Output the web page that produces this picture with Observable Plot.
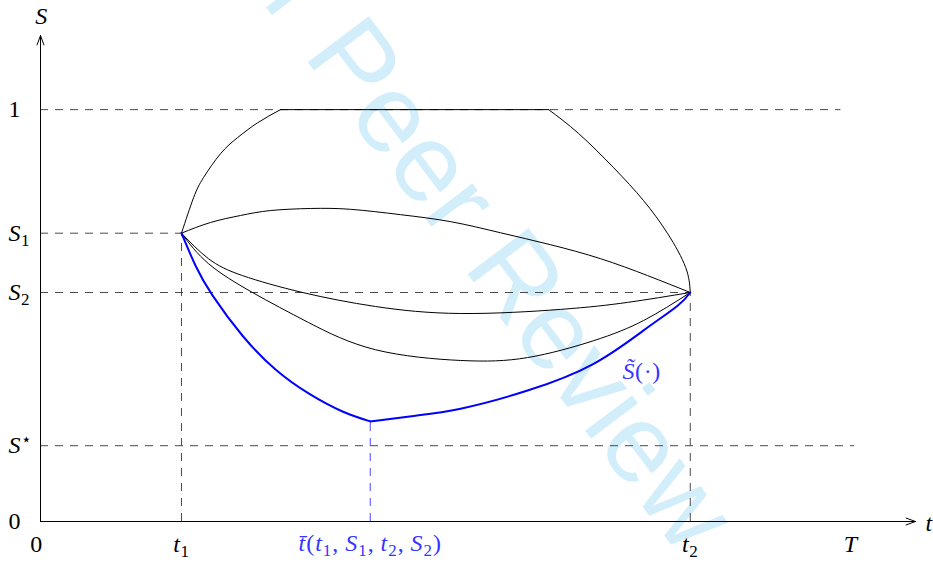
<!DOCTYPE html>
<html><head><meta charset="utf-8">
<script src="https://cdn.jsdelivr.net/npm/d3@7"></script>
<script src="https://cdn.jsdelivr.net/npm/@observablehq/plot@0.6"></script>
<style>
body{margin:0;background:#fff}
#chart svg text{font-family:"Liberation Serif","DejaVu Serif","Times New Roman",serif;}
#chart svg text.wm{font-family:"Liberation Sans","Arial","Helvetica",sans-serif;}
</style>
</head><body><div id="chart"></div>
<script>
// Key abscissae / ordinates
const t1 = 1.74, tBar = 4.07, t2 = 8.02, tEnd = 10;
const S1 = 0.70, S2 = 0.556, SStar = 0.184, SOne = 1, SBarMin = 0.243;
const tMax = 10.8, SMax = 1.18;
const oneLineEnd = 9.88, starLineEnd = 10.05;

// Tick labels
const yTickValues = [SOne, S1, S2, SStar, 0];
const yTickLabels = ["1", "S_1", "S_2", "S^⋆", "0"];
const xTickValues = [t1, t2, tEnd];
const xTickLabels = ["t_1", "t_2", "T"];
const originLabel = "0";
const tBarLabel = "t\u0304(t_1,\u2009S_1,\u2009t_2,\u2009S_2)";
const curveLabel = "S\u0303(·)";
const curveLabelPos = [7.42, 0.364];

// Dashed guide lines
const hLineS = [SOne, S1, S2, SStar];
const hLineEnd = [oneLineEnd, t1, t2, starLineEnd];
const vLineT = [t1, t2];
const vLineTop = [S1, S2];

// Curves [t, S]
const upperRise = [[1.74,0.70],[1.889,0.786],[2.012,0.835],[2.222,0.893],[2.432,0.932],[2.679,0.968],[2.963,1.0]];
const upperFlat = [[2.963,1.0],[6.272,1.0]];
const upperFall = [[6.272,1.0],[6.642,0.942],[7.074,0.859],[7.444,0.779],[7.741,0.699],[7.963,0.617],[8.02,0.556]];
const archCurve = [[1.74,0.70],[2.099,0.726],[2.469,0.743],[2.84,0.755],[3.333,0.760],[3.827,0.758],[4.444,0.745],[5.062,0.728],[5.679,0.701],[6.296,0.672],[6.914,0.638],[7.494,0.597],[8.02,0.556]];
const middleCurve = [[1.74,0.70],[2.074,0.638],[2.494,0.597],[3.235,0.556],[4.136,0.522],[5.185,0.505],[6.42,0.515],[7.247,0.532],[8.02,0.556]];
const lowerCurve = [[1.74,0.70],[2.074,0.626],[2.617,0.556],[3.309,0.483],[4.136,0.417],[5.185,0.391],[6.012,0.398],[6.827,0.439],[7.444,0.488],[8.02,0.556]];
const blueLeft = [[1.74,0.70],[1.914,0.621],[2.123,0.549],[2.494,0.451],[2.901,0.369],[3.309,0.311],[3.728,0.267],[4.07,0.243]];
const blueRight = [[4.07,0.243],[4.63,0.257],[5.185,0.274],[6.012,0.318],[6.827,0.383],[7.444,0.464],[7.864,0.524],[8.02,0.556]];

const watermark = ["For Peer Review"];

const BLUE = "#0000ff", LBLUE = "#3535ff", DASH = "#4a4a4a";
const fs = 24, fsSmall = 17;
const line = (data, o) => Plot.line(data, {x: d => d[0], y: d => d[1], curve: "natural", ...o});

const chart = Plot.plot({
  width: 933, height: 562,
  marginLeft: 40, marginRight: 18, marginTop: 35, marginBottom: 41,
  x: {domain: [0, tMax], axis: null},
  y: {domain: [0, SMax], axis: null},
  style: {background: "#fff"},
  marks: [
    Plot.text(watermark, {frameAnchor: "top-left", dx: 143, dy: -138, rotate: 53, text: d => d,
      fontSize: 111, fill: "#d3eefb", textAnchor: "start", lineAnchor: "bottom"}),
    Plot.ruleY(hLineS, {y: d => d, x1: 0, x2: (d, i) => hLineEnd[i], stroke: DASH, strokeWidth: 1, strokeDasharray: "8,7"}),
    Plot.ruleX(vLineT, {x: d => d, y1: 0, y2: (d, i) => vLineTop[i], stroke: DASH, strokeWidth: 1, strokeDasharray: "8,7"}),
    Plot.ruleX([tBar], {x: d => d, y1: 0, y2: SBarMin, stroke: LBLUE, strokeWidth: 0.9, strokeDasharray: "8,7"}),
    line(upperRise, {stroke: "#000", strokeWidth: 1}),
    line(upperFlat, {stroke: "#000", strokeWidth: 1}),
    line(upperFall, {stroke: "#000", strokeWidth: 1}),
    line(archCurve, {stroke: "#000", strokeWidth: 1}),
    line(middleCurve, {stroke: "#000", strokeWidth: 1}),
    line(lowerCurve, {stroke: "#000", strokeWidth: 1}),
    line(blueLeft, {stroke: BLUE, strokeWidth: 2}),
    line(blueRight, {stroke: BLUE, strokeWidth: 2}),
    Plot.arrow([0], {x1: 0, y1: 0, x2: tMax, y2: 0, headLength: 15, headAngle: 40, stroke: "#000", strokeWidth: 1}),
    Plot.arrow([0], {x1: 0, y1: 0, x2: 0, y2: SMax, headLength: 15, headAngle: 40, stroke: "#000", strokeWidth: 1}),
    Plot.text(yTickLabels, {x: 0, y: (d, i) => yTickValues[i], text: d => d, dx: -32, textAnchor: "start", fontSize: fs, fill: "#000"}),
    Plot.text(xTickLabels, {x: (d, i) => xTickValues[i], y: 0, text: d => d, dy: 23, textAnchor: "middle", fontSize: fs, fill: "#000"}),
    Plot.text([originLabel], {x: 0, y: 0, text: d => d, dy: 23, dx: -4, textAnchor: "middle", fontSize: fs, fill: "#000"}),
    Plot.text([tBarLabel], {x: tBar, y: 0, text: d => d, dy: 22, textAnchor: "middle", fontSize: fs, fill: LBLUE}),
    Plot.text([curveLabel], {x: curveLabelPos[0], y: curveLabelPos[1], text: d => d, textAnchor: "middle", fontSize: fs, fill: LBLUE}),
    Plot.text(["S"], {x: 0, y: SMax, text: d => d, dy: -19, dx: 1, textAnchor: "middle", fontSize: fs, fill: "#000"}),
    Plot.text(["t"], {x: tMax, y: 0, text: d => d, dx: 10, dy: 2, textAnchor: "start", fontSize: fs, fill: "#000"})
  ]
});

// Typeset math-like labels: italic letters, upright digits, sub/superscripts
d3.select(chart).selectAll("text").each(function () {
  const el = this;
  const s = el.textContent;
  if (s.includes("Peer")) { el.setAttribute("class", "wm"); return; }
  const tokens = [];
  for (let i = 0; i < s.length;) {
    let mode = "n";
    if (s[i] === "_") { mode = "sub"; i++; }
    else if (s[i] === "^") { mode = "sup"; i++; }
    let j = i + 1;
    while (j < s.length && /[\u0300-\u036f]/.test(s[j])) j++;
    tokens.push({t: s.slice(i, j), mode});
    i = j;
  }
  el.textContent = "";
  el.setAttribute("letter-spacing", s.length > 8 ? "1.0" : "0.6");
  let cur = 0;
  for (const tk of tokens) {
    const ts = d3.select(el).append("tspan").text(tk.t);
    const target = tk.mode === "sub" ? 5 : tk.mode === "sup" ? -8 : 0;
    if (target !== cur) { ts.attr("dy", target - cur); cur = target; }
    if (tk.mode !== "n") ts.attr("font-size", fsSmall);
    if (/[A-Za-z]/.test(tk.t[0])) ts.attr("font-style", "italic");
  }
});

document.getElementById("chart").appendChild(chart);
</script>
</body></html>
